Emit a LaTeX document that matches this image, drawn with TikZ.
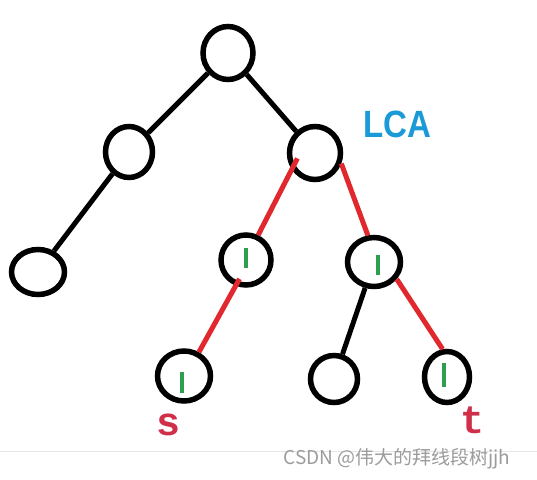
\documentclass[tikz,border=0pt]{standalone}
\usepackage{fontspec}
\usetikzlibrary{shapes.geometric,calc}
\newfontfamily\labfont{Liberation Sans}
\newfontfamily\monofontx{Liberation Mono}
\newfontfamily\cjk{Noto Sans CJK SC}
\definecolor{edgered}{HTML}{E0282E}
\definecolor{markgreen}{HTML}{2E9E4F}
\definecolor{lcablue}{HTML}{1A9AD6}
\definecolor{labred}{HTML}{CF2F48}
\definecolor{wmgray}{HTML}{9C9C9C}
\definecolor{rulegray}{HTML}{E6E6E6}
\tikzset{
  tnode/.style={ellipse, draw=black, line width=5.5pt, fill=white, inner sep=0pt},
  blackedge/.style={draw=black, line width=5pt},
  rededge/.style={draw=edgered, line width=5pt},
  greenmark/.style={draw=markgreen, line width=3.5pt},
}
\begin{document}
\begin{tikzpicture}[x=1pt,y=-1pt]
\useasboundingbox (0,0) rectangle (537,479);
\fill[white] (0,0) rectangle (537,479);
% separator rule
\coordinate (rl) at (0,451);
\coordinate (rr) at (537,451);
\draw[rulegray, line width=1pt] (rl) -- (rr);
% nodes
\node[tnode, minimum width=50pt, minimum height=53pt] (root) at (228,53) {};
\node[tnode, minimum width=47pt, minimum height=51pt] (lc) at (129,152) {};
\node[tnode, minimum width=51pt, minimum height=53pt] (lca) at (315,153) {};
\node[tnode, minimum width=53pt, minimum height=45pt] (ll) at (38,272) {};
\node[tnode, minimum width=50pt, minimum height=50pt] (sp) at (246,260) {};
\node[tnode, minimum width=53pt, minimum height=49pt] (rn) at (374,262) {};
\node[tnode, minimum width=53pt, minimum height=50pt] (s) at (184,376) {};
\node[tnode, minimum width=47pt, minimum height=47pt] (ml) at (334,379) {};
\node[tnode, minimum width=45pt, minimum height=51pt] (t) at (447,377) {};
% black edges
\draw[blackedge] (root) -- (lc);
\draw[blackedge] (root) -- (lca);
\draw[blackedge] (lc) -- (ll);
\draw[blackedge] (rn) -- (ml);
% red edges
\draw[rededge] ($(lca)!0.65!(lca.197)$) -- (sp.64);
\draw[rededge] (lca.338) -- (rn.103);
\draw[rededge] ($(sp)!0.72!(sp.251)$) -- (s.58);
\draw[rededge] (rn.323) -- (t.99);
% green marks
\draw[greenmark] ([shift={(0,-12)}]sp.center) -- ([shift={(0,8)}]sp.center);
\draw[greenmark] ([shift={(4,-7)}]rn.center) -- ([shift={(4,13)}]rn.center);
\draw[greenmark] ([shift={(-2,-4)}]s.center) -- ([shift={(-2,17)}]s.center);
\draw[greenmark] ([shift={(-3,-14)}]t.center) -- ([shift={(-3,10)}]t.center);
% labels
\node[text=lcablue, font=\labfont\bfseries\fontsize{38}{40}\selectfont, xscale=0.87, inner sep=0pt] (lcalab) at (397,124) {LCA};
\node[text=labred, font=\monofontx\bfseries\fontsize{40}{42}\selectfont, inner sep=0pt, anchor=base] (slab) at (168,435) {s};
\node[text=labred, font=\monofontx\bfseries\fontsize{40}{42}\selectfont, inner sep=0pt, anchor=base] (tlab) at (472,433) {t};
% watermark
\node[text=wmgray, font=\cjk\fontsize{19}{21}\selectfont, inner sep=0pt] (wm) at (397,459) {CSDN @伟大的拜线段树jjh};
\end{tikzpicture}
\end{document}
